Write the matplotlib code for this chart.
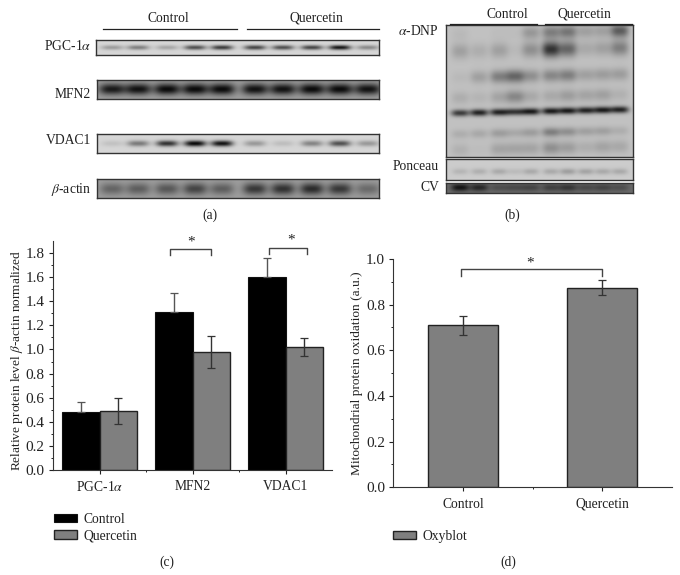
import numpy as np
import matplotlib
matplotlib.use('Agg')
import matplotlib.pyplot as plt

plt.rcParams['font.family'] = ['Liberation Serif', 'DejaVu Serif']
plt.rcParams['mathtext.fontset'] = 'stix'
plt.rcParams['font.size'] = 9.8
plt.rcParams['text.color'] = '#222222'
plt.rcParams['axes.labelcolor'] = '#222222'
plt.rcParams['xtick.color'] = '#222222'
plt.rcParams['ytick.color'] = '#222222'

W, H = 680, 575

# panel (c)
proteins = ['PGC-1$\\alpha$', 'MFN2', 'VDAC1']
control_vals = [0.485, 1.31, 1.60]
control_err = [0.08, 0.16, 0.16]
querc_vals = [0.49, 0.98, 1.02]
querc_err = [0.105, 0.13, 0.075]

# panel (d)
oxy_labels = ['Control', 'Quercetin']
oxy_vals = [0.71, 0.875]
oxy_err = [0.042, 0.034]

# blot band strengths, one per lane (5 control, 5 quercetin)
pgc_bands = [0.3, 0.45, 0.25, 0.7, 0.8, 0.75, 0.7, 0.75, 1.0, 0.4]
mfn2_bands = [0.9, 0.95, 1.0, 1.0, 1.0, 0.95, 0.95, 1.0, 1.0, 0.95]
vdac1_bands = [0.1, 0.45, 0.8, 1.0, 0.95, 0.3, 0.12, 0.4, 0.65, 0.3]
actin_bands = [0.45, 0.5, 0.55, 0.7, 0.5, 0.8, 0.85, 0.9, 0.8, 0.4]
ponceau_bands = [0.2, 0.25, 0.3, 0.15, 0.3, 0.3, 0.4, 0.35, 0.3, 0.3]
cv_bands = [0.9, 0.7, 0.3, 0.35, 0.4, 0.45, 0.55, 0.35, 0.4, 0.3]
dnp_bands = [
    [0.05, 0.0, 0.03, 0.03, 0.25, 0.4, 0.45, 0.2, 0.2, 0.6],
    [0.2, 0.12, 0.2, 0.05, 0.3, 0.85, 0.55, 0.15, 0.2, 0.4],
    [0.05, 0.2, 0.4, 0.55, 0.3, 0.35, 0.4, 0.2, 0.22, 0.22],
    [0.12, 0.08, 0.18, 0.35, 0.15, 0.15, 0.22, 0.18, 0.2, 0.1],
    [0.8, 0.95, 0.95, 0.85, 1.0, 1.0, 1.0, 0.95, 1.0, 0.95],
    [0.12, 0.15, 0.22, 0.15, 0.22, 0.4, 0.3, 0.2, 0.2, 0.12],
    [0.1, 0.03, 0.18, 0.18, 0.18, 0.3, 0.22, 0.12, 0.18, 0.15],
]

fig = plt.figure(figsize=(W / 100, H / 100), dpi=100)
fig.patch.set_facecolor('white')


def px_axes(x0, y0, x1, y1):
    return fig.add_axes([x0 / W, 1 - y1 / H, (x1 - x0) / W, (y1 - y0) / H])


def px_text(x, y, s, ha='center', **kw):
    fig.text(x / W, 1 - y / H, s, ha=ha, va='center', **kw)


def px_line(x0, x1, y):
    fig.add_artist(plt.Line2D([x0 / W, x1 / W], [1 - y / H, 1 - y / H], color='#222222', lw=0.9))


def draw_blot(box, lanes, rows, row_pos, bg, dark, sx, row_sy, tilt=0.0):
    # soft blob for every band so it looks like a film scan
    x0, y0, x1, y1 = box
    ax = px_axes(x0, y0, x1, y1)
    xs = np.linspace(x0, x1, int(x1 - x0) * 2)
    ys = np.linspace(0, 1, int(y1 - y0) * 2)
    xx, yy = np.meshgrid(xs, ys)
    ink = np.zeros_like(xx)
    for row, pos, sy in zip(rows, row_pos, row_sy):
        for lane, strength in zip(lanes, row):
            shift = tilt * (lane - x0) / (x1 - x0)
            ink += strength * np.exp(-np.abs((xx - lane) / sx) ** 3 - ((yy - pos - shift) / sy) ** 2)
    ink = np.clip(ink, 0, 1)
    ax.imshow(bg - (bg - dark) * ink, cmap='gray', vmin=0, vmax=1, aspect='auto',
              interpolation='bilinear', extent=(0, 1, 1, 0))
    ax.set_xticks([])
    ax.set_yticks([])
    for s in ax.spines.values():
        s.set_color('#333333')
        s.set_linewidth(1.0)
    return ax


# panel (a) blots
a_lanes = [112, 138, 167, 195, 222, 255, 283, 312, 340, 368]
draw_blot((96, 40, 379, 55), a_lanes, [pgc_bands], [0.5], 0.84, 0.08, 11, [0.16])
draw_blot((97, 80, 379, 99), a_lanes, [mfn2_bands], [0.48], 0.62, 0.04, 13, [0.3])
draw_blot((97, 134, 379, 153), a_lanes, [vdac1_bands], [0.5], 0.84, 0.03, 11, [0.16])
draw_blot((97, 179, 379, 198), a_lanes, [actin_bands], [0.52], 0.62, 0.12, 12, [0.32])

px_text(168, 18.5, 'Control')
px_text(316, 18.5, 'Quercetin')
px_line(103, 237, 28.5)
px_line(247, 379, 28.5)
px_text(91, 46, 'PGC-1$\\alpha$', ha='right')
px_text(91, 94, 'MFN2', ha='right')
px_text(91, 141, 'VDAC1', ha='right')
px_text(91, 189, '$\\beta$-actin', ha='right')
px_text(210, 215, '(a)')

# panel (b) blots
b_lanes = [460, 479, 499, 515, 531, 551, 568, 586, 603, 620]
draw_blot((446, 25, 633, 157), b_lanes, dnp_bands,
          [0.07, 0.2, 0.4, 0.555, 0.67, 0.83, 0.95], 0.76, 0.1, 9,
          [0.05, 0.06, 0.05, 0.05, 0.026, 0.035, 0.05], tilt=-0.03)
draw_blot((446, 159, 633, 180), b_lanes, [ponceau_bands], [0.6], 0.8, 0.35, 8, [0.15])
draw_blot((446, 183, 633, 193), b_lanes, [cv_bands], [0.45], 0.42, 0.04, 9, [0.4])

px_text(507, 14, 'Control')
px_text(584, 14, 'Quercetin')
px_line(450, 537, 23.7)
px_line(545, 632, 23.7)
px_text(439, 31, '$\\alpha$-DNP', ha='right')
px_text(439, 166, 'Ponceau', ha='right')
px_text(439, 188, 'CV', ha='right')
px_text(512, 215, '(b)')


def style_axes(ax):
    ax.spines['top'].set_visible(False)
    ax.spines['right'].set_visible(False)
    ax.spines['left'].set_color('#333333')
    ax.spines['bottom'].set_color('#333333')
    ax.tick_params(axis='both', which='major', length=3, width=0.8, pad=4.5)
    ax.tick_params(axis='both', which='minor', length=1.5, width=0.7)
    ax.tick_params(axis='y', which='major', labelsize=11, pad=3)


def bracket(ax, x0, x1, top, bottom, star_x, star_y):
    ax.plot([x0, x0, x1, x1], [bottom, top, top, bottom], color='#444444', lw=1.0, clip_on=False)
    ax.text(star_x, star_y, '*', ha='center', va='center', fontsize=11)


# panel (c)
ax_c = px_axes(53, 241, 332, 470)
style_axes(ax_c)
x = np.arange(1, len(proteins) + 1)
bar_w = 0.405
ax_c.bar(x - bar_w / 2, control_vals, bar_w, color='black', edgecolor='#111111', lw=0.8,
         label='Control', zorder=2)
ax_c.bar(x + bar_w / 2, querc_vals, bar_w, color='#7f7f7f', edgecolor='#222222', lw=1.0,
         label='Quercetin', zorder=2)
ax_c.errorbar(x - bar_w / 2, control_vals, yerr=[[0] * 3, control_err], fmt='none',
              ecolor='#555555', elinewidth=1.0, capsize=3, capthick=0.9, zorder=3)
ax_c.errorbar(x + bar_w / 2, querc_vals, yerr=querc_err, fmt='none',
              ecolor='#333333', elinewidth=1.0, capsize=3, capthick=0.9, zorder=3)
ax_c.set_xlim(0.5, 3.5)
ax_c.set_ylim(0, 1.9)
ax_c.set_xticks(x)
ax_c.set_xticklabels(proteins)
ax_c.set_xticks([1.5, 2.5], minor=True)
ax_c.set_yticks(np.arange(0, 1.81, 0.2))
ax_c.set_yticks(np.arange(0.1, 1.9, 0.2), minor=True)
ax_c.set_ylabel('Relative protein level $\\beta$-actin normalized', fontsize=9.6)
ax_c.yaxis.set_label_coords(-0.100, 0.48)
bracket(ax_c, 1.761, 2.195, 1.833, 1.78, 1.98, 1.895)
bracket(ax_c, 2.82, 3.235, 1.846, 1.794, 3.06, 1.905)
ax_c.legend(loc='upper left', bbox_to_anchor=(51 / W, 1 - 510 / H), bbox_transform=fig.transFigure,
            frameon=False, handlelength=1.7, handleheight=0.62, handletextpad=0.5,
            labelspacing=0.25, borderpad=0.2, borderaxespad=0)
px_text(167, 562, '(c)')

# panel (d)
ax_d = px_axes(393.3, 259, 671.7, 487.3)
style_axes(ax_d)
x_d = np.arange(1, len(oxy_vals) + 1)
ax_d.bar(x_d, oxy_vals, 0.5, color='#7f7f7f', edgecolor='#222222', lw=1.0, label='Oxyblot', zorder=2)
ax_d.errorbar(x_d, oxy_vals, yerr=oxy_err, fmt='none', ecolor='#333333', elinewidth=1.0,
              capsize=3, capthick=0.9, zorder=3)
ax_d.set_xlim(0.5, 2.5)
ax_d.set_ylim(0, 1.0)
ax_d.set_xticks(x_d)
ax_d.set_xticklabels(oxy_labels)
ax_d.set_xticks([1.5], minor=True)
ax_d.set_yticks(np.arange(0, 1.01, 0.2))
ax_d.set_yticks(np.arange(0.1, 1.0, 0.2), minor=True)
ax_d.set_ylabel('Mitochondrial protein oxidation (a.u.)', fontsize=9.6)
ax_d.yaxis.set_label_coords(-0.109, 0.5)
bracket(ax_d, 0.988, 2.0, 0.957, 0.927, 1.48, 0.983)
ax_d.legend(loc='upper left', bbox_to_anchor=(390 / W, 1 - 527 / H), bbox_transform=fig.transFigure,
            frameon=False, handlelength=1.7, handleheight=0.62, handletextpad=0.5,
            borderpad=0.2, borderaxespad=0)
px_text(508, 562, '(d)')

fig.savefig('out.png', dpi=100)
